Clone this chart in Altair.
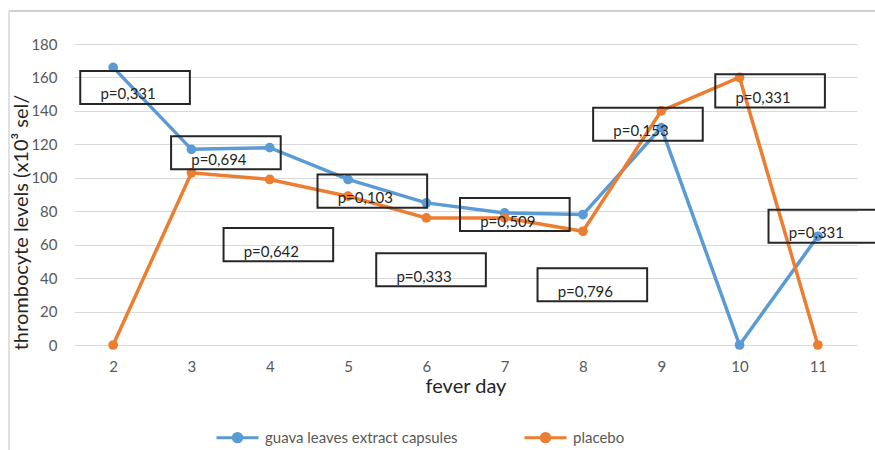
import altair as alt
import pandas as pd

days = [2, 3, 4, 5, 6, 7, 8, 9, 10, 11]
guava = [166, 117, 118, 99, 85, 79, 78, 130, 0, 65]
placebo = [0, 103, 99, 89, 76, 76, 68, 140, 160, 0]
series_names = ["guava leaves extract capsules", "placebo"]

p_labels = ["p=0,331", "p=0,694", "p=0,103", "p=0,642", "p=0,333",
            "p=0,509", "p=0,796", "p=0,153", "p=0,331", "p=0,331"]
p_day = [2.28, 3.44, 5.31, 4.11, 6.06, 7.13, 8.12, 8.83, 10.39, 11.07]
p_val = [154, 115, 92, 60, 45, 78, 36, 132, 152, 71]

y_ticks = [0, 20, 40, 60, 80, 100, 120, 140, 160, 180]

FONT = "Lato"
BLUE = "#5B9BD5"
ORANGE = "#ED7D31"

rows = []
for d, g, p in zip(days, guava, placebo):
    rows.append({"day": d, "value": g, "series": series_names[0]})
    rows.append({"day": d, "value": p, "series": series_names[1]})
df = pd.DataFrame(rows)

ann = pd.DataFrame({"label": p_labels, "day": p_day, "val": p_val})

xscale = alt.Scale(domain=[1.5, 11.5], nice=False, zero=False)
yscale = alt.Scale(domain=[0, 180], nice=False)

X_AXIS = alt.Axis(values=days, format="d", grid=False, domain=False,
                  ticks=False, labelOverlap=False,
                  title="fever day", labelFont=FONT, labelFontSize=15,
                  labelColor="#595959", labelPadding=14,
                  titleFont=FONT, titleFontSize=20, titleColor="#262626",
                  titleFontWeight="normal", titlePadding=2)
Y_AXIS = alt.Axis(values=y_ticks, format="d", grid=True,
                  gridColor="#d9d9d9", labelOverlap=False,
                  domain=False, ticks=False,
                  title="thrombocyte levels (x10³ sel/",
                  labelFont=FONT, labelFontSize=15, labelColor="#595959",
                  labelPadding=17,
                  titleFont=FONT, titleFontSize=20, titleColor="#262626",
                  titleFontWeight="normal", titleAngle=270,
                  titleX=-53, titleY=178, titleBaseline="middle",
                  titleAlign="center")

legend_path = ("M-1,0L1,0"
               "M0.1,0A0.1,0.1,0,1,1,-0.1,0A0.1,0.1,0,1,1,0.1,0"
               "M0.2,0A0.2,0.2,0,1,1,-0.2,0A0.2,0.2,0,1,1,0.2,0")

lines = alt.Chart(df).mark_line(
    strokeWidth=3.5,
    point=alt.OverlayMarkDef(size=95, filled=True, opacity=1),
).encode(
    x=alt.X("day:Q", scale=xscale, axis=X_AXIS),
    y=alt.Y("value:Q", scale=yscale, axis=Y_AXIS),
    color=alt.Color("series:N",
                    scale=alt.Scale(domain=series_names, range=[BLUE, ORANGE]),
                    legend=alt.Legend(orient="none", legendX=141, legendY=371,
                                      direction="horizontal", title=None,
                                      symbolType=legend_path, symbolSize=1764,
                                      symbolStrokeWidth=3, labelFont=FONT,
                                      labelFontSize=15, labelColor="#595959",
                                      labelOffset=5, labelLimit=400,
                                      columnPadding=60)),
    order=alt.Order("day:Q"),
)

boxes = alt.Chart(ann).transform_calculate(
    x1="datum.day - 0.70", x2="datum.day + 0.70",
    y1="datum.val - 9.9", y2="datum.val + 9.9",
).mark_rect(fill=None, fillOpacity=0, stroke="#262626", strokeWidth=2).encode(
    x=alt.X("x1:Q", scale=xscale, axis=X_AXIS), x2="x2:Q",
    y=alt.Y("y1:Q", scale=yscale, axis=Y_AXIS), y2="y2:Q",
)

texts = alt.Chart(ann).mark_text(
    font=FONT, fontSize=15, color="#262626", dx=-7, dy=7
).encode(
    x=alt.X("day:Q", scale=xscale, axis=X_AXIS),
    y=alt.Y("val:Q", scale=yscale, axis=Y_AXIS),
    text="label:N",
)

frame_top = alt.Chart(pd.DataFrame({"k": [0]})).mark_rule(
    color="#d0d0d0", strokeWidth=2
).encode(x=alt.value(-65), x2=alt.value(801), y=alt.value(-33))
frame_left = alt.Chart(pd.DataFrame({"k": [0]})).mark_rule(
    color="#e0e0e0", strokeWidth=2
).encode(x=alt.value(-65), y=alt.value(-33), y2=alt.value(406))

chart = alt.layer(frame_top, frame_left, lines, boxes, texts).properties(
    width=783, height=301,
    background="white",
    autosize=alt.AutoSizeParams(type="none"),
    padding={"left": 74, "top": 44, "right": 18, "bottom": 105},
).configure_view(stroke="transparent", strokeWidth=0)

chart.save("out.html", embed_options={"renderer": "svg", "actions": False})
